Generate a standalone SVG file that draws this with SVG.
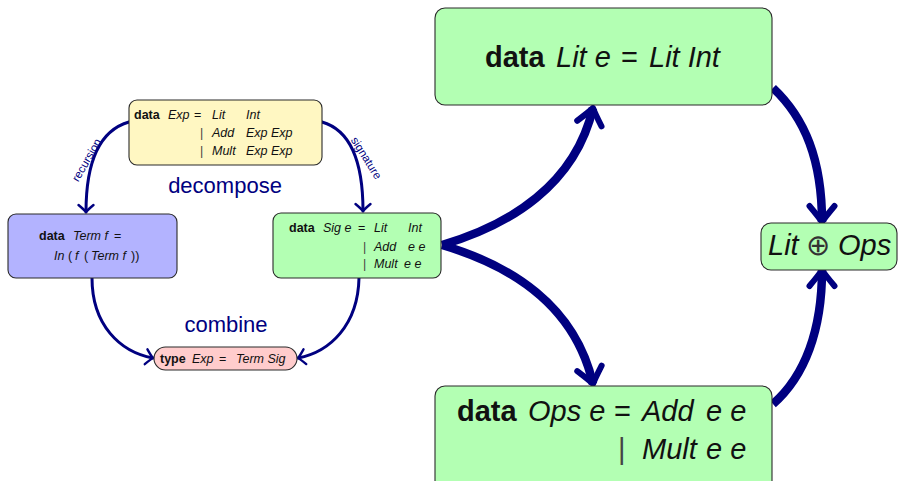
<svg xmlns="http://www.w3.org/2000/svg" width="899" height="481" viewBox="0 0 899 481">
  <style>
    .box{stroke:#2a2a2a;stroke-width:1.1}
    .t{font-family:"Liberation Sans",Arial,sans-serif;fill:#111}
    .s{font-size:12.5px}
    .L{font-size:29px}
    .i{font-style:italic}
    .b{font-weight:bold}
    .bar{fill:#444}
    .op{font-weight:300;fill:#333}
    .lab{font-family:"Liberation Sans",Arial,sans-serif;fill:#000080}
    .thin{fill:none;stroke:#000080;stroke-width:3;stroke-linecap:round}
    .thick{fill:none;stroke:#000080;stroke-width:8.5}
  </style>
  <defs>
    <marker id="hs" markerUnits="userSpaceOnUse" orient="auto" overflow="visible" markerWidth="1" markerHeight="1">
      <path d="M-7,-7.5 Q-2,-1.5 0,0 Q-2,1.5 -7,7.5" fill="none" stroke="#000080" stroke-width="2.4" stroke-linecap="round" stroke-linejoin="round"/>
    </marker>
    <marker id="hb" markerUnits="userSpaceOnUse" orient="auto" overflow="visible" markerWidth="1" markerHeight="1">
      <path d="M-16,-12.5 Q-4,-2.5 0,0 Q-4,2.5 -16,12.5" fill="none" stroke="#000080" stroke-width="6" stroke-linecap="round" stroke-linejoin="round"/>
    </marker>
  </defs>

  <!-- connectors -->
  <g id="connectors">
    <path class="thin" d="M129,122 C101,130 86,160 86,212" marker-end="url(#hs)"/>
    <path class="thin" d="M322,122 C350,130 363,160 363,211" marker-end="url(#hs)"/>
    <path class="thin" d="M92,278 C92,325 120,352 153,358" marker-end="url(#hs)"/>
    <path class="thin" d="M359,278 C358,325 330,352 298,358" marker-end="url(#hs)"/>
    <path class="thick" d="M442,245 C510,225 575,185 593,108" marker-end="url(#hb)"/>
    <path class="thick" d="M442,245 C510,265 575,305 593,384" marker-end="url(#hb)"/>
    <path class="thick" d="M773,88 C805,118 822,160 822,222" marker-end="url(#hb)"/>
    <path class="thick" d="M773,404 C805,376 822,330 822,270" marker-end="url(#hb)"/>
    <text class="lab" font-size="11.5" text-anchor="middle" transform="translate(90,162) rotate(-60)">recursion</text>
    <text class="lab" font-size="11.5" text-anchor="middle" transform="translate(363,160) rotate(58)">signature</text>
    <text class="lab" font-size="22" x="225" y="193" text-anchor="middle">decompose</text>
    <text class="lab" font-size="22" x="226" y="332" text-anchor="middle">combine</text>
  </g>

  <!-- data Exp -->
  <g id="exp">
    <rect class="box" x="129" y="100" width="193" height="65" rx="8" fill="#fff7c2"/>
    <text class="t s" y="119"><tspan class="b" x="134">data</tspan><tspan class="i" x="168">Exp</tspan><tspan x="194">=</tspan><tspan class="i" x="212">Lit</tspan><tspan class="i" x="246">Int</tspan></text>
    <text class="t s" y="137"><tspan class="bar" x="200">|</tspan><tspan class="i" x="212">Add</tspan><tspan class="i" x="246">Exp Exp</tspan></text>
    <text class="t s" y="155"><tspan class="bar" x="200">|</tspan><tspan class="i" x="212">Mult</tspan><tspan class="i" x="246">Exp Exp</tspan></text>
  </g>

  <!-- data Term -->
  <g id="term">
    <rect class="box" x="8" y="214" width="169" height="64" rx="8" fill="#b3b3ff"/>
    <text class="t s" y="240"><tspan class="b" x="39">data</tspan><tspan class="i" x="73">Term f</tspan><tspan x="114">=</tspan></text>
    <text class="t s" y="260"><tspan class="i" x="54">In</tspan><tspan x="68">(</tspan><tspan class="i" x="75">f</tspan><tspan x="84">(</tspan><tspan class="i" x="91">Term f</tspan><tspan x="131">))</tspan></text>
  </g>

  <!-- data Sig -->
  <g id="sig">
    <rect class="box" x="273" y="213" width="168" height="65" rx="8" fill="#b3ffb3"/>
    <text class="t s" y="232"><tspan class="b" x="289">data</tspan><tspan class="i" x="323">Sig e</tspan><tspan x="358">=</tspan><tspan class="i" x="374">Lit</tspan><tspan class="i" x="408">Int</tspan></text>
    <text class="t s" y="251"><tspan class="bar" x="363">|</tspan><tspan class="i" x="374">Add</tspan><tspan class="i" x="408">e e</tspan></text>
    <text class="t s" y="268"><tspan class="bar" x="363">|</tspan><tspan class="i" x="374">Mult</tspan><tspan class="i" x="404">e e</tspan></text>
  </g>

  <!-- type Exp -->
  <g id="type">
    <rect class="box" x="154" y="347" width="143" height="23" rx="11.5" fill="#ffcccc"/>
    <text class="t s" y="363"><tspan class="b" x="160">type</tspan><tspan class="i" x="192">Exp</tspan><tspan x="219">=</tspan><tspan class="i" x="236">Term Sig</tspan></text>
  </g>

  <!-- data Lit -->
  <g id="lit">
    <rect class="box" x="435" y="8" width="337" height="97" rx="10" fill="#b3ffb3"/>
    <text class="t L" y="67"><tspan class="b" x="485">data</tspan><tspan class="i" x="556">Lit e</tspan><tspan x="621">=</tspan><tspan class="i" x="649">Lit Int</tspan></text>
  </g>

  <!-- data Ops -->
  <g id="ops">
    <rect class="box" x="435" y="386" width="337" height="110" rx="10" fill="#b3ffb3"/>
    <text class="t L" y="421"><tspan class="b" x="457">data</tspan><tspan class="i" x="528">Ops e</tspan><tspan x="614">=</tspan><tspan class="i" x="642">Add</tspan><tspan class="i" x="706">e e</tspan></text>
    <text class="t L" y="459"><tspan class="bar" x="618">|</tspan><tspan class="i" x="642">Mult</tspan><tspan class="i" x="706">e e</tspan></text>
  </g>

  <!-- Lit ⊕ Ops -->
  <g id="sum">
    <rect class="box" x="761" y="223" width="136" height="47" rx="10" fill="#b3ffb3"/>
    <text class="t L" y="255"><tspan class="i" x="768">Lit</tspan><tspan class="op" x="806">⊕</tspan><tspan class="i" x="838">Ops</tspan></text>
  </g>
</svg>
